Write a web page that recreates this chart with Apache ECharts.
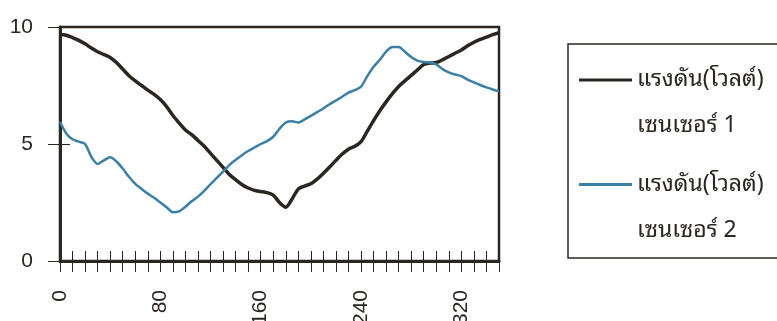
<!DOCTYPE html>
<html>
<head>
<meta charset="utf-8">
<script src="https://cdn.jsdelivr.net/npm/echarts@6/dist/echarts.min.js"></script>
<style>
  html, body { margin: 0; padding: 0; background: #ffffff; }
  #chart { width: 777px; height: 321px; }
</style>
</head>
<body>
<div id="chart"></div>
<script>
// Angle in degrees, sampled every 5 degrees
const angles = [
  0, 5, 10, 15, 20, 25, 30, 35, 40, 45, 50, 55, 60, 65, 70, 75, 80, 85, 90, 95,
  100, 105, 110, 115, 120, 125, 130, 135, 140, 145, 150, 155, 160, 165, 170, 175,
  180, 185, 190, 195, 200, 205, 210, 215, 220, 225, 230, 235, 240, 245, 250, 255,
  260, 265, 270, 275, 280, 285, 290, 295, 300, 305, 310, 315, 320, 325, 330, 335,
  340, 345, 350
];

// Sensor 1 voltage (V)
const sensor1 = [
  9.68, 9.65, 9.55, 9.43, 9.28, 9.10, 8.94, 8.82, 8.70, 8.48, 8.20, 7.92, 7.70, 7.50, 7.30, 7.12, 6.90, 6.60, 6.22, 5.90,
  5.60, 5.40, 5.15, 4.90, 4.60, 4.30, 4.00, 3.70, 3.48, 3.27, 3.12, 3.02, 2.97, 2.92, 2.82, 2.50,
  2.30, 2.65, 3.08, 3.20, 3.30, 3.50, 3.75, 4.02, 4.30, 4.57, 4.78, 4.90, 5.10, 5.55, 6.00, 6.42,
  6.80, 7.15, 7.46, 7.70, 7.93, 8.17, 8.40, 8.46, 8.48, 8.60, 8.74, 8.88, 9.02, 9.20, 9.35, 9.47,
  9.57, 9.67, 9.76
];

// Sensor 2 voltage (V)
const sensor2 = [
  5.95, 5.45, 5.20, 5.10, 5.00, 4.45, 4.15, 4.30, 4.43, 4.25, 3.95, 3.60, 3.30, 3.08, 2.88, 2.70, 2.50, 2.30, 2.08, 2.12,
  2.32, 2.55, 2.75, 3.00, 3.28, 3.55, 3.82, 4.10, 4.32, 4.52, 4.70, 4.85, 5.00, 5.12, 5.31, 5.65,
  5.92, 5.97, 5.92, 6.05, 6.20, 6.36, 6.52, 6.70, 6.86, 7.02, 7.20, 7.30, 7.45, 7.90, 8.30, 8.60,
  8.95, 9.15, 9.15, 8.94, 8.72, 8.56, 8.50, 8.48, 8.40, 8.20, 8.06, 7.97, 7.90, 7.75, 7.63, 7.52,
  7.42, 7.33, 7.25
];

// Axis settings
const xMin = 0, xMax = 350, xTickStep = 10, xLabelStep = 80;
const yMin = 0, yMax = 10, yTickStep = 5;

// Legend entries: first line is the quantity, second line names the sensor
const legendTitles = ['แรงดัน(โวลต์)', 'แรงดัน(โวลต์)'];
const legendSensors = ['เซนเซอร์ 1', 'เซนเซอร์ 2'];
const seriesNames = legendTitles.map((t, i) => t + '\n' + legendSensors[i]);

const ink = '#2b2622';
const blue = '#3a7fa6';
const numFont = '"Liberation Sans", Arial, sans-serif';
const thaiFont = '"Noto Sans Thai Looped", "Umpush", "Loma", "Garuda", "Noto Sans Thai", sans-serif';
const legendLine = 46;

const chart = echarts.init(document.getElementById('chart'), null, { renderer: 'canvas' });

const toPairs = (vals) => angles.map((a, i) => [a, vals[i]]);

chart.setOption({
  backgroundColor: '#ffffff',
  animation: false,
  grid: {
    left: 60, top: 27, width: 439, height: 234,
    outerBoundsMode: 'none', containLabel: false,
    show: true, borderColor: ink, borderWidth: 2.5, backgroundColor: 'transparent'
  },
  xAxis: [
    {
      type: 'value', min: xMin, max: xMax, interval: xTickStep,
      axisLine: { show: true, onZero: false, lineStyle: { color: ink, width: 3 } },
      axisTick: { show: true, length: 11, lineStyle: { color: ink, width: 1 } },
      axisLabel: {
        rotate: 90, margin: 29, color: ink, fontSize: 21, fontFamily: numFont,
        formatter: (v) => (v % xLabelStep === 0 ? String(v) : '')
      },
      splitLine: { show: false }
    },
    {
      // inner half of the crossing tick marks
      type: 'value', min: xMin, max: xMax, interval: xTickStep, position: 'bottom',
      axisLine: { show: false, onZero: false },
      axisTick: { show: true, inside: true, length: 10, lineStyle: { color: ink, width: 1 } },
      axisLabel: { show: false },
      splitLine: { show: false }
    }
  ],
  yAxis: [
    {
      type: 'value', min: yMin, max: yMax, interval: yTickStep,
      axisLine: { show: true, onZero: false, lineStyle: { color: ink, width: 3 } },
      axisTick: { show: true, length: 12, lineStyle: { color: ink, width: 1 } },
      axisLabel: { margin: 27, color: ink, fontSize: 21, fontFamily: numFont },
      splitLine: { show: false }
    },
    {
      type: 'value', min: yMin, max: yMax, interval: yTickStep, position: 'left',
      axisLine: { show: false, onZero: false },
      axisTick: { show: true, inside: true, length: 10, lineStyle: { color: ink, width: 1 } },
      axisLabel: { show: false },
      splitLine: { show: false }
    }
  ],
  legend: {
    orient: 'vertical',
    left: 579, top: 24,
    padding: 0,
    icon: 'rect',
    itemWidth: 53, itemHeight: 3,
    itemGap: -9,
    // an empty top row balances the two text rows so the swatch sits on the first one
    formatter: (name) => {
      const parts = name.split('\n');
      return '{e| }\n{t|' + parts[0] + '}\n{t|' + parts[1] + '}';
    },
    textStyle: {
      color: ink, fontFamily: thaiFont,
      rich: {
        e: { fontSize: 20, lineHeight: legendLine, fontFamily: thaiFont },
        t: { fontSize: 23, lineHeight: legendLine, color: ink, fontFamily: thaiFont }
      }
    },
    data: seriesNames
  },
  graphic: [
    {
      type: 'rect', silent: true,
      shape: { x: 568, y: 44, width: 230, height: 214 },
      style: { fill: 'none', stroke: ink, lineWidth: 1.5 }
    }
  ],
  series: [
    {
      name: seriesNames[0], type: 'line', smooth: 0.3, symbol: 'none',
      xAxisIndex: 0, yAxisIndex: 0,
      lineStyle: { color: ink, width: 3.5 }, itemStyle: { color: ink },
      data: toPairs(sensor1)
    },
    {
      name: seriesNames[1], type: 'line', smooth: 0.3, symbol: 'none',
      xAxisIndex: 0, yAxisIndex: 0,
      lineStyle: { color: blue, width: 2.5 }, itemStyle: { color: blue },
      data: toPairs(sensor2)
    }
  ]
});
</script>
</body>
</html>
